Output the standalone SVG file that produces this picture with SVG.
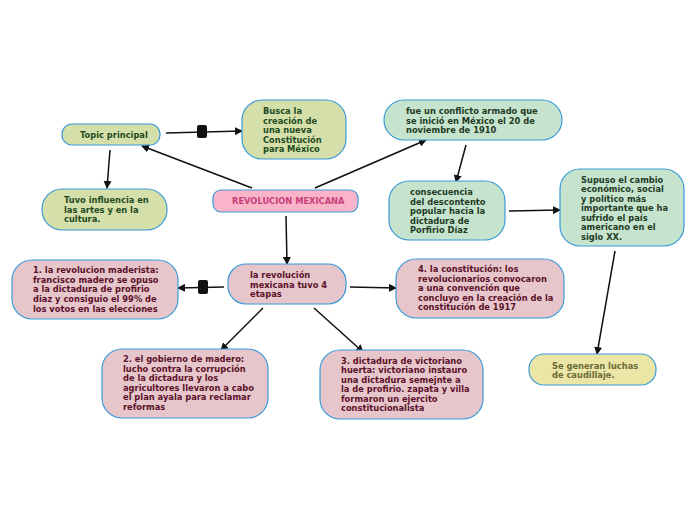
<svg xmlns="http://www.w3.org/2000/svg" width="696" height="520" viewBox="0 0 696 520">
<style>
rect{stroke:#3a9ad9;stroke-width:1.2}
text{font-family:"DejaVu Sans",sans-serif;font-weight:bold;font-size:8.3px}
.g rect{fill:#d4dfa9}.g text{fill:#1f4a1f}
.m rect{fill:#c6e4cd}.m text{fill:#1f3a25}
.p rect{fill:#e6c6cb}.p text{fill:#5a1028}
.c line{stroke:#111;stroke-width:1.5;marker-end:url(#a)}
</style>
<defs><marker id="a" markerWidth="8" markerHeight="8" refX="7" refY="4" orient="auto" markerUnits="userSpaceOnUse"><path d="M0,0 L8,4 L0,8z" fill="#111"/></marker></defs>
<rect width="696" height="520" fill="#fff" style="stroke:none"/>
<g class="c">
<line x1="166" y1="133" x2="242" y2="131"/>
<line x1="110" y1="150" x2="107" y2="188"/>
<line x1="252" y1="188" x2="142" y2="146"/>
<line x1="315" y1="188" x2="426" y2="140"/>
<line x1="286" y1="216" x2="287" y2="264"/>
<line x1="466" y1="145" x2="456" y2="182"/>
<line x1="509" y1="211" x2="560" y2="210"/>
<line x1="615" y1="251" x2="597" y2="354"/>
<line x1="224" y1="287" x2="178" y2="288"/>
<line x1="350" y1="287" x2="396" y2="288"/>
<line x1="263" y1="308" x2="221" y2="350"/>
<line x1="314" y1="308" x2="363" y2="352"/>
<rect x="197" y="125" width="10" height="13" rx="2" style="fill:#111;stroke:none"/>
<rect x="198" y="280" width="10" height="14" rx="2" style="fill:#111;stroke:none"/>
</g>
<g id="topic" class="g"><rect x="62" y="124" width="98" height="21" rx="10"/><text x="80" y="138">Topic principal</text></g>
<g id="busca" class="g"><rect x="242" y="100" width="104" height="59" rx="20"/><text x="263" y="114">Busca la</text><text x="263" y="124">creación de</text><text x="263" y="133">una nueva</text><text x="263" y="143">Constitución</text><text x="263" y="152">para México</text></g>
<g id="tuvo" class="g"><rect x="42" y="189" width="125" height="41" rx="20"/><text x="64" y="203">Tuvo influencia en</text><text x="64" y="213">las artes y en la</text><text x="64" y="222">cultura.</text></g>
<g id="rev"><rect x="213" y="190" width="145" height="22" rx="8" fill="#f9b4c9"/><text x="232" y="204" fill="#c8407a">REVOLUCION MEXICANA</text></g>
<g id="fue" class="m"><rect x="384" y="100" width="178" height="40" rx="20"/><text x="406" y="114">fue un conflicto armado que</text><text x="406" y="124">se inició en México el 20 de</text><text x="406" y="133">noviembre de 1910</text></g>
<g id="cons" class="m"><rect x="389" y="181" width="116" height="59" rx="20"/><text x="410" y="195">consecuencia</text><text x="410" y="205">del descontento</text><text x="410" y="214">popular hacia la</text><text x="410" y="224">dictadura de</text><text x="410" y="233">Porfirio Díaz</text></g>
<g id="supuso" class="m"><rect x="560" y="169" width="124" height="77" rx="20"/><text x="581" y="183">Supuso el cambio</text><text x="581" y="192">económico, social</text><text x="581" y="202">y político más</text><text x="581" y="211">importante que ha</text><text x="581" y="221">sufrido el país</text><text x="581" y="230">americano en el</text><text x="581" y="240">siglo XX.</text></g>
<g id="se"><rect x="529" y="354" width="127" height="31" rx="15" fill="#ebe6a5"/><text x="552" y="369" fill="#6a6a3a">Se generan luchas</text><text x="552" y="378" fill="#6a6a3a">de caudillaje.</text></g>
<g id="etapas" class="p"><rect x="228" y="264" width="118" height="40" rx="18"/><text x="250" y="278">la revolución</text><text x="250" y="288">mexicana tuvo 4</text><text x="250" y="297">etapas</text></g>
<g id="e1" class="p"><rect x="12" y="260" width="166" height="59" rx="20"/><text x="33" y="273">1. la revolucion maderista:</text><text x="33" y="283">francisco madero se opuso</text><text x="33" y="292">a la dictadura de profirio</text><text x="33" y="302">diaz y consiguio el 99% de</text><text x="33" y="312">los votos en las elecciones</text></g>
<g id="e4" class="p"><rect x="396" y="259" width="168" height="59" rx="20"/><text x="418" y="272">4. la constitución: los</text><text x="418" y="282">revolucionarios convocaron</text><text x="418" y="291">a una convención que</text><text x="418" y="301">concluyo en la creación de la</text><text x="418" y="310">constitución de 1917</text></g>
<g id="e2" class="p"><rect x="102" y="349" width="166" height="69" rx="20"/><text x="123" y="362">2. el gobierno de madero:</text><text x="123" y="372">lucho contra la corrupción</text><text x="123" y="381">de la dictadura y los</text><text x="123" y="391">agricultores llevaron a cabo</text><text x="123" y="400">el plan ayala  para reclamar</text><text x="123" y="410">reformas</text></g>
<g id="e3" class="p"><rect x="320" y="350" width="163" height="69" rx="20"/><text x="341" y="364">3. dictadura de victoriano</text><text x="341" y="373">huerta: victoriano instauro</text><text x="341" y="383">una dictadura semejnte a</text><text x="341" y="392">la de profirio. zapata y villa</text><text x="341" y="402">formaron un ejercito</text><text x="341" y="411">constitucionalista</text></g>
</svg>
